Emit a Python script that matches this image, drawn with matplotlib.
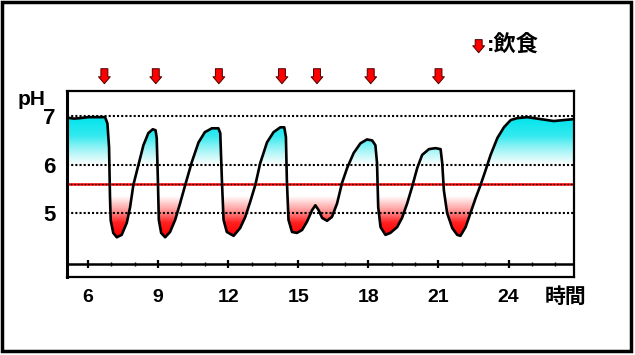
import numpy as np
import matplotlib.pyplot as plt
from matplotlib.colors import LinearSegmentedColormap
from matplotlib.patches import Rectangle

plt.rcParams['font.family'] = ['Liberation Sans', 'Noto Sans CJK JP', 'DejaVu Sans']

# %% data
# time of day (hours) and plaque pH along the curve
hours = [5.10, 5.40, 5.66, 6.00, 6.50, 6.73, 6.83, 6.90, 6.94, 6.97, 7.08, 7.23,
         7.44, 7.66, 7.80, 7.94, 8.16, 8.37, 8.58, 8.77, 8.89, 8.94, 8.99, 9.03,
         9.13, 9.30, 9.51, 9.73, 9.94, 10.16, 10.44, 10.73, 11.00, 11.30, 11.58,
         11.66, 11.73, 11.80, 11.94, 12.23, 12.51, 12.73, 12.94, 13.16, 13.37,
         13.66, 13.94, 14.23, 14.40, 14.47, 14.51, 14.58, 14.73, 14.94, 15.16,
         15.37, 15.59, 15.73, 15.87, 16.02, 16.23, 16.44, 16.66, 16.87, 17.09,
         17.37, 17.66, 17.94, 18.16, 18.30, 18.37, 18.42, 18.52, 18.73, 18.94,
         19.23, 19.44, 19.66, 19.87, 20.09, 20.30, 20.59, 20.87, 21.09, 21.16,
         21.23, 21.37, 21.59, 21.80, 21.94, 22.16, 22.37, 22.59, 22.80, 23.02,
         23.23, 23.52, 23.80, 24.09, 24.37, 24.80, 25.37, 25.93, 26.36, 26.80]
ph = [6.97, 6.95, 6.96, 6.98, 6.98, 6.98, 6.85, 6.36, 5.33, 4.85, 4.59, 4.50,
      4.55, 4.80, 5.12, 5.58, 6.00, 6.40, 6.65, 6.73, 6.71, 6.55, 5.68, 4.86,
      4.59, 4.50, 4.61, 4.86, 5.20, 5.58, 6.05, 6.46, 6.67, 6.75, 6.75,
      6.65, 5.68, 4.86, 4.61, 4.53, 4.69, 4.92, 5.23, 5.58, 6.03,
      6.46, 6.67, 6.77, 6.77, 6.57, 5.68, 4.86, 4.61, 4.59, 4.65,
      4.82, 5.06, 5.16, 5.06, 4.90, 4.84, 4.92, 5.20, 5.62, 5.93,
      6.24, 6.44, 6.52, 6.50, 6.40, 6.03, 5.12, 4.71, 4.55, 4.59,
      4.71, 4.90, 5.20, 5.54, 5.93, 6.20, 6.32, 6.34, 6.32, 6.03,
      5.47, 5.00, 4.69, 4.55, 4.53, 4.71, 5.00, 5.31, 5.58, 5.89,
      6.20, 6.55, 6.77, 6.92, 6.96, 6.98, 6.94, 6.90, 6.92, 6.94]

meal_hours = [6.7, 8.9, 11.6, 14.3, 15.8, 18.1, 21.0]
xtick_hours = [6, 9, 12, 15, 18, 21, 24]
xtick_labels = ['6', '9', '12', '15', '18', '21', '24']
ytick_ph = [5, 6, 7]
critical_ph = 5.6

# %% colours for the fill, by pH
ph_stops = [4.5, 4.8, 5.05, 5.35, 6.0, 6.3, 6.6, 7.0]
stop_colors = ['#ff0000', '#ff2020', '#ff9a9a', '#ffffff', '#ffffff',
               '#a6f5f7', '#34e9ef', '#00e4ec']
cmap = LinearSegmentedColormap.from_list(
    'ph', [((p - 4.5) / 2.5, c) for p, c in zip(ph_stops, stop_colors)])

W, H = 635, 355
fig = plt.figure(figsize=(W / 100, H / 100), dpi=100)
fig.add_artist(Rectangle((1.5 / W, 4 / H), 629 / W, 349.5 / H,
                         transform=fig.transFigure, fill=False,
                         ec='black', lw=2.5))

ax = fig.add_axes([67 / W, 1 - 277 / H, (574 - 67) / W, (277 - 91) / H])
x0, x1 = 5.1, 26.8
y0, y1 = 3.68, 7.52
ax.set_xlim(x0, x1)
ax.set_ylim(y0, y1)

# gradient clipped to the area between curve and critical line
fill = ax.fill_between(hours, ph, critical_ph, facecolor='none', edgecolor='none')
grad = np.linspace(y0, y1, 400).reshape(-1, 1)
im = ax.imshow(grad, extent=[x0, x1, y0, y1], origin='lower', aspect='auto',
               cmap=cmap, vmin=4.5, vmax=7.0, zorder=1)
im.set_clip_path(fill.get_paths()[0], transform=ax.transData)

for y in ytick_ph:
    ax.axhline(y, color='black', lw=1.5, ls=(0, (1, 1)), zorder=2)
ax.axhline(critical_ph, color='red', lw=1.8, zorder=2)
ax.axhline(critical_ph, color='black', lw=1.0, ls=(0, (1, 1.5)), zorder=2)

ax.plot(hours, ph, color='black', lw=1.9, zorder=3, solid_joinstyle='round')

# time axis drawn inside the box
base = 3.95
ax.axhline(base, color='black', lw=1.8)
minor = [h for h in range(6, 27) if h not in xtick_hours]
ax.vlines(minor, base - 0.05, base + 0.05, color='black', lw=1)
ax.vlines(xtick_hours, base - 0.09, base + 0.09, color='black', lw=1.6)

ax.set_xticks(xtick_hours, xtick_labels, fontsize=14, fontweight='bold')
ax.set_yticks(ytick_ph, [str(v) for v in ytick_ph], fontsize=16, fontweight='bold')
ax.tick_params(axis='x', length=0, pad=9)
ax.tick_params(axis='y', length=0, pad=8)
for s in ax.spines.values():
    s.set_linewidth(1.6)
ax.spines['left'].set_linewidth(2.2)

ax.text(3.6, 7.23, 'pH', ha='center', va='baseline', fontsize=15,
        fontweight='bold', clip_on=False)
ax.text(26.45, 3.27, '時間', ha='center', va='center', fontsize=15,
        fontweight='bold', clip_on=False)

# meal arrows
arrow = dict(arrowstyle='simple,head_length=0.5,head_width=0.85,tail_width=0.5',
             fc='red', ec='#4a0000', lw=0.7, shrinkA=0, shrinkB=0, mutation_scale=10)
for h in meal_hours:
    ax.annotate('', xy=(h, 7.67), xytext=(h, 7.98), arrowprops=arrow,
                annotation_clip=False)
ax.annotate('', xy=(22.72, 8.31), xytext=(22.72, 8.58), arrowprops=arrow,
            annotation_clip=False)
ax.text(23.05, 8.44, ':飲食', ha='left', va='center', fontsize=16,
        fontweight='bold', clip_on=False)

fig.savefig('out.png', dpi=100)
